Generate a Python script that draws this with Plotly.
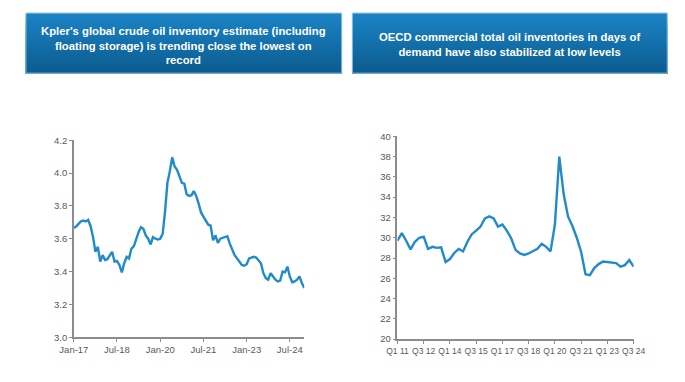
import plotly.graph_objects as go
import pandas as pd

# Left chart: Kpler global crude inventory (bn bbl), monthly Jan-17 .. Jan-25
kpler_dates = pd.date_range("2017-01-01", periods=97, freq="MS")
kpler_values = [
    3.666, 3.675, 3.69, 3.706, 3.71, 3.705, 3.715, 3.676, 3.61, 3.52,
    3.55, 3.46, 3.50, 3.47, 3.475, 3.50, 3.52, 3.46, 3.465, 3.44,
    3.395, 3.45, 3.49, 3.48, 3.54, 3.555, 3.60, 3.64, 3.67, 3.66,
    3.62, 3.60, 3.565, 3.61, 3.60, 3.595, 3.60, 3.63, 3.76, 3.94,
    4.01, 4.095, 4.04, 4.02, 3.98, 3.94, 3.935, 3.87, 3.86, 3.865,
    3.89, 3.86, 3.815, 3.76, 3.735, 3.71, 3.685, 3.68, 3.59, 3.62,
    3.575, 3.60, 3.605, 3.61, 3.615, 3.57, 3.53, 3.50, 3.48, 3.46,
    3.44, 3.435, 3.445, 3.48, 3.485, 3.49, 3.485, 3.47, 3.45, 3.39,
    3.36, 3.35, 3.39, 3.37, 3.35, 3.34, 3.345, 3.40, 3.395, 3.43,
    3.37, 3.335, 3.34, 3.35, 3.37, 3.33, 3.30,
]
kpler_ticks = ["2017-01-01", "2018-07-01", "2020-01-01", "2021-07-01", "2023-01-01", "2024-07-01"]
kpler_tick_text = ["Jan-17", "Jul-18", "Jan-20", "Jul-21", "Jan-23", "Jul-24"]

# Right chart: OECD commercial stocks in days of demand, quarterly Q1 11 .. Q3 24
oecd_values = [
    29.7, 30.45, 29.7, 28.85, 29.6, 30.0, 30.1, 28.9, 29.1, 29.0,
    29.05, 27.6, 27.9, 28.5, 28.9, 28.65, 29.6, 30.35, 30.7, 31.1,
    31.9, 32.1, 31.9, 31.1, 31.3, 30.7, 29.95, 28.8, 28.45, 28.3,
    28.45, 28.65, 28.9, 29.4, 29.1, 28.65, 31.3, 38.0, 34.3, 32.1,
    31.15, 30.0, 28.6, 26.4, 26.3, 27.0, 27.4, 27.65, 27.6, 27.5,
    27.5, 27.15, 27.3, 27.8, 27.15,
]
oecd_tick_labels = ["Q1 11", "Q3 12", "Q1 14", "Q3 15", "Q1 17", "Q3 18", "Q1 20", "Q3 21", "Q1 23", "Q3 24"]

titles = [
    "Kpler's global crude oil inventory estimate (including<br>floating storage) is trending close the lowest on<br>record",
    "OECD commercial total oil inventories in days of<br>demand have also stabilized at low levels",
]

# page has an 8px body margin; figure fills the rest of the 685x382 window
OFF = 8
W, H = 685 - OFF, 382 - OFF
LINE = "#1f8bcb"
AXIS = "#8c8c8c"
TICKF = dict(family="Liberation Sans, Arial, sans-serif", size=9.5, color="#595959")

fig = go.Figure()
fig.add_trace(go.Scatter(x=kpler_dates, y=kpler_values, mode="lines",
                         line=dict(color=LINE, width=2.4), xaxis="x", yaxis="y",
                         showlegend=False, hoverinfo="skip"))
oecd_idx = list(range(len(oecd_values)))
fig.add_trace(go.Scatter(x=oecd_idx, y=oecd_values, mode="lines",
                         line=dict(color=LINE, width=2.4), xaxis="x2", yaxis="y2",
                         showlegend=False, hoverinfo="skip"))

def px_x(p):
    return (p - OFF) / W

def px_y(p):
    return 1 - (p - OFF) / H

axis_common = dict(showline=True, linecolor=AXIS, linewidth=1.5, showgrid=False,
                   zeroline=False, ticks="outside", ticklen=3, tickcolor=AXIS,
                   tickwidth=1.2, tickfont=TICKF, tickangle=0)

layout = dict(
    width=W, height=H, margin=dict(l=0, r=0, t=0, b=0),
    paper_bgcolor="white", plot_bgcolor="white",
    xaxis=dict(domain=[px_x(61), px_x(301)], anchor="y", type="date",
               range=["2017-01-01", "2025-01-01"], tickvals=kpler_ticks,
               ticktext=kpler_tick_text, **axis_common),
    yaxis=dict(domain=[px_y(341), px_y(138)], anchor="x", range=[3.0, 4.2],
               tickvals=[3.0, 3.2, 3.4, 3.6, 3.8, 4.0, 4.2], tickformat=".1f",
               **axis_common),
    xaxis2=dict(domain=[px_x(398), px_x(644)], anchor="y2", range=[0, 54],
                tickvals=list(range(0, 55, 6)), ticktext=oecd_tick_labels,
                **axis_common),
    yaxis2=dict(domain=[px_y(343), px_y(134)], anchor="x2", range=[20, 40],
                tickvals=list(range(20, 41, 2)), **axis_common),
)
fig.update_layout(**layout)
fig.update_layout(xaxis2_tickfont=dict(size=8.5, family="Liberation Sans, Arial, sans-serif", color="#595959"))

# Gradient title boxes built from overlapping strips (no seams)
boxes = [(11, 340), (351, 679)]
top_rgb = (27, 131, 197)
bot_rgb = (12, 92, 143)
n = 30
y0, y1 = 7, 69
shapes = []
for (bx0, bx1) in boxes:
    for i in range(n):
        t = i / (n - 1)
        c = tuple(round(top_rgb[k] + (bot_rgb[k] - top_rgb[k]) * t) for k in range(3))
        sy0 = y0 + (y1 - y0) * i / n
        shapes.append(dict(type="rect", xref="paper", yref="paper",
                           x0=px_x(bx0), x1=px_x(bx1), y0=px_y(y1), y1=px_y(sy0),
                           fillcolor=f"rgb{c}", line=dict(width=0), layer="below"))
    shapes.append(dict(type="rect", xref="paper", yref="paper",
                       x0=px_x(bx0), x1=px_x(bx1), y0=px_y(y1), y1=px_y(y0),
                       fillcolor="rgba(0,0,0,0)", line=dict(color="#9cc8e6", width=1)))
fig.update_layout(shapes=shapes)

ann_font = dict(family="Liberation Sans, Arial, sans-serif", size=11.3, color="white")
fig.add_annotation(x=px_x((11 + 340) / 2), y=px_y(40), xref="paper", yref="paper",
                   text="<b>" + titles[0] + "</b>", showarrow=False, font=ann_font,
                   align="center", xanchor="center", yanchor="middle")
fig.add_annotation(x=px_x((351 + 679) / 2), y=px_y(39), xref="paper", yref="paper",
                   text="<b>" + titles[1] + "</b>", showarrow=False, font=ann_font,
                   align="center", xanchor="center", yanchor="middle")

fig.write_html("out.html")
